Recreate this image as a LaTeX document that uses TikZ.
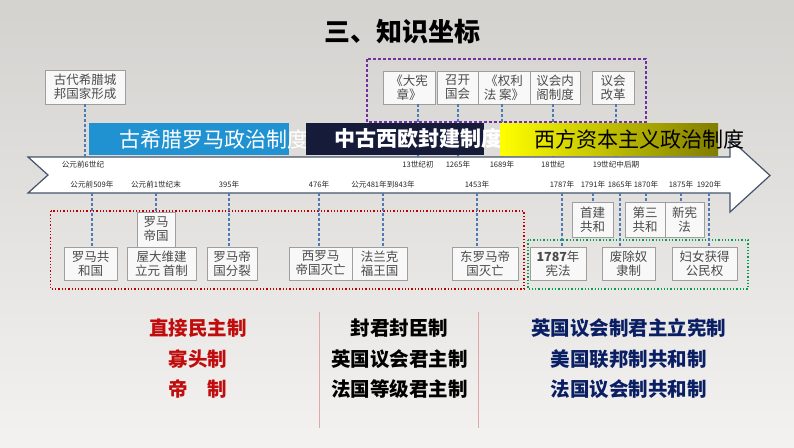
\documentclass[tikz,border=0pt]{standalone}
\usepackage{fontspec}
\setmainfont{Noto Sans CJK SC}
\usetikzlibrary{positioning,calc}
\definecolor{bgtop}{RGB}{212,210,207}
\definecolor{bgbot}{RGB}{243,242,240}
\definecolor{bandblue}{RGB}{32,146,210}
\definecolor{bandnavy}{RGB}{22,27,58}
\definecolor{bandolive}{RGB}{128,124,0}
\definecolor{linegray}{RGB}{68,84,106}
\definecolor{connblue}{RGB}{79,122,180}
\definecolor{boxgray}{RGB}{158,158,158}
\definecolor{boxfill}{RGB}{248,248,248}
\definecolor{boxtext}{RGB}{75,75,75}
\definecolor{txtred}{RGB}{192,12,12}
\definecolor{txtnavy}{RGB}{10,30,100}
\definecolor{framepurple}{RGB}{112,48,160}
\definecolor{framered}{RGB}{192,0,0}
\definecolor{framegreen}{RGB}{0,160,80}
\definecolor{divider}{RGB}{222,168,168}
\tikzstyle{evtbox}=[draw=boxgray,fill=boxfill,text=boxtext,align=center,inner sep=0pt,line width=0.8pt,font=\fontsize{12.5}{14}\selectfont]
\tikzstyle{datelbl}=[inner sep=0pt,text=black!85,font=\fontsize{7.6}{9}\selectfont]
\tikzstyle{conn}=[draw=connblue,line width=1.1pt,dash pattern=on 3pt off 2pt]
\tikzstyle{band}=[inner sep=0pt,minimum height=32pt]
\tikzstyle{bandtxt}=[inner sep=0pt,anchor=west,font=\fontsize{21}{24}\selectfont]
\tikzstyle{sumtxt}=[inner sep=0pt,font=\fontsize{19.5}{22}\selectfont\bfseries]
\tikzstyle{timeline}=[draw=linegray,fill=white,line width=1.2pt]
\begin{document}
\begin{tikzpicture}[x=1pt,y=-1pt]
   \useasboundingbox (0,0) rectangle (794,447);
   \shade[top color=bgtop,bottom color=bgbot] (0,0) rectangle (794,447);

   \node[font=\fontsize{26}{30}\selectfont\bfseries] (title) at (402,32) {三、知识坐标};

   % time line
   \draw[timeline] (28,157) -- (730,157) -- (730,139) -- (770,175.5) -- (730,212)
        -- (730,193) -- (28,193) -- (48,175) -- cycle;
   \coordinate (tltop) at (0,157);
   \coordinate (tlbot) at (0,193);

   \draw[framepurple,line width=1.1pt,dash pattern=on 3pt off 2pt] (367,59) rectangle (646,122);
   \draw[framered,line width=1.3pt,dotted] (50.5,211) rectangle (524,289);
   \draw[framegreen,line width=1.3pt,dotted] (528,240) rectangle (748,289);

   % upper events
   \node[evtbox,minimum width=80pt,minimum height=34pt] (ancient) at (85,87) {古代希腊城\\邦国家形成};
    \foreach \pos/\name/\bw/\label in {{(409,87.5)/magna/52/{《大宪\\章》}}, {(457.5,87.5)/parl/41/{召开\\国会}},
            {(504,87.5)/rights/52/{《权利\\法 案》}}, {(555,87.5)/cabinet/50/{议会内\\阁制度}},
            {(613,87.5)/reform/42/{议会\\改革}}}
            \node[evtbox,minimum width=\bw pt,minimum height=33pt] (\name) at \pos {\label};

   \node[datelbl] (d6c) at (83,165) {公元前6世纪};
    \foreach \x/\name/\label in {418/d13c/13世纪初, 458/d1265/1265年, 502/d1689/1689年, 553/d18c/18世纪, 616/d19c/19世纪中后期}
            \node[datelbl] (\name) at (\x,165) {\label};

   \draw[conn] (ancient.south) -- (ancient.south |- tltop);
    \foreach \src/\dst in {magna/d13c, parl/d1265, rights/d1689, cabinet/d18c, reform/d19c}
        \draw[conn] (\src.south -| \dst) -- (\dst |- tltop);

   % bands
   \node[band,fill=bandblue,minimum width=200pt] (greekband) at (188.5,139) {};
   \node[bandtxt,text=white] (greektxt) at (119,139) {古希腊罗马政治制度};
   \node[band,fill=bandnavy,minimum width=178pt] (feudband) at (395,139) {};
   \node[bandtxt,text=white,font=\fontsize{21}{24}\selectfont\bfseries] (feudtxt) at (334,139) {中古西欧封建制度};
   \node[band,left color=yellow,right color=bandolive,minimum width=218pt] (capband) at (609,139) {};
   \node[bandtxt,text=black] (captxt) at (534,139) {西方资本主义政治制度};

   % lower events
    \foreach \pos/\name/\bw/\label in {{(90.5,263.5)/rep/53/{罗马共\\和国}}, {(161.5,263.5)/octa/69/{屋大维建\\立元 首制}},
            {(232,263.5)/split/50/{罗马帝\\国分裂}}, {(320.5,263.5)/wrome/63/{西罗马\\帝国灭亡}},
            {(379.5,263.5)/frank/55/{法兰克\\福王国}}, {(485,263.5)/erome/66/{东罗马帝\\国灭亡}},
            {(558,263.5)/const/56/{\textbf{1787}年\\宪法}}, {(628.5,263.5)/slave/53/{废除奴\\隶制}},
            {(704.5,263.5)/women/65/{妇女获得\\公民权}}}
            \node[evtbox,minimum width=\bw pt,minimum height=33pt] (\name) at \pos {\label};
    \foreach \pos/\name/\bw/\label in {{(156,229.5)/empire/38/{罗马\\帝国}}, {(592.5,219.5)/firstrep/41/{首建\\共和}},
            {(645,219.5)/third/40/{第三\\共和}}, {(684.5,219.5)/newconst/39/{新宪\\法}}}
            \node[evtbox,minimum width=\bw pt,minimum height=35pt] (\name) at \pos {\label};

    \foreach \x/\name/\label in {92/d509/公元前509年, 156/d1bc/公元前1世纪末, 229/d395/395年, 319/d476/476年,
            383/d481/公元481年到843年, 477/d1453/1453年, 562/d1787/1787年, 593/d1791/1791年,
            620/d1865/1865年, 646/d1870/1870年, 681/d1875/1875年, 709/d1920/1920年}
            \node[datelbl] (\name) at (\x,185) {\label};

    \foreach \src/\dst in {d509/rep, d1bc/empire, d395/split, d476/wrome, d481/frank, d1453/erome,
            d1787/const, d1791/firstrep, d1865/slave, d1870/third, d1875/newconst, d1920/women}
        \draw[conn] (\src |- tlbot) -- (\src |- \dst.north);

   % summary
   \draw[divider,line width=0.8pt] (319,312) -- (319,428);
   \draw[divider,line width=0.8pt] (478,312) -- (478,428);
    \foreach \y/\name/\label in {328/direct/直接民主制, 359/oligarchy/寡头制, 389/empiresys/帝\quad 制}
            \node[sumtxt,text=txtred] (\name) at (198,\y) {\label};
    \foreach \y/\name/\label in {328/feudal/封君封臣制, 359/engmon/英国议会君主制, 389/framon/法国等级君主制}
            \node[sumtxt,text=black] (\name) at (399.5,\y) {\label};
    \foreach \y/\name/\label in {328/engconst/英国议会制君主立宪制, 359/usrep/美国联邦制共和制, 389/frrep/法国议会制共和制}
            \node[sumtxt,text=txtnavy] (\name) at (628.5,\y) {\label};

\end{tikzpicture}
\end{document}
